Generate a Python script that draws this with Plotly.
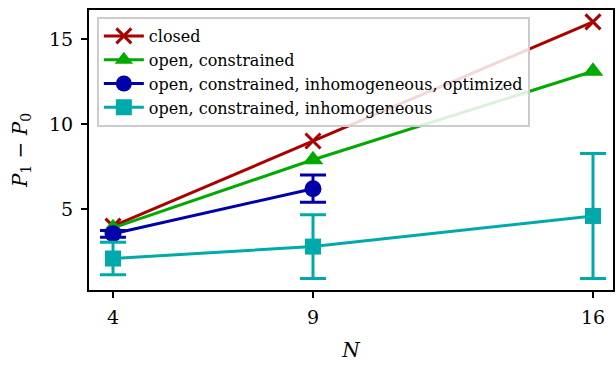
import plotly.graph_objects as go

N = [4, 9, 16]
closed = [4.0, 9.0, 16.0]
open_constrained = [3.9, 7.9, 13.1]
N_opt = [4, 9]
opt_vals = [3.55, 6.2]
opt_err = [0.2, 0.8]
inhom_vals = [2.1, 2.8, 4.6]
inhom_err = [0.95, 1.87, 3.67]

red = "#aa0000"
green = "#00aa00"
blue = "#0000aa"
cyan = "#00aaaa"

fig = go.Figure()
fig.add_trace(go.Scatter(x=N, y=closed, mode="lines+markers", name="closed",
    line=dict(color=red, width=3),
    marker=dict(symbol="x-thin", size=15, line=dict(color=red, width=3), color=red)))
fig.add_trace(go.Scatter(x=N, y=open_constrained, mode="lines+markers", name="open, constrained",
    line=dict(color=green, width=3),
    marker=dict(symbol="triangle-up", size=18, color=green)))
fig.add_trace(go.Scatter(x=N_opt, y=opt_vals, mode="lines+markers",
    name="open, constrained, inhomogeneous, optimized",
    line=dict(color=blue, width=3),
    marker=dict(symbol="circle", size=17, color=blue),
    error_y=dict(type="data", array=opt_err, color=blue, thickness=3, width=13)))
fig.add_trace(go.Scatter(x=N, y=inhom_vals, mode="lines+markers",
    name="open, constrained, inhomogeneous",
    line=dict(color=cyan, width=3),
    marker=dict(symbol="square", size=16, color=cyan),
    error_y=dict(type="data", array=inhom_err, color=cyan, thickness=3, width=13)))

fig.update_layout(
    width=616, height=365,
    margin=dict(l=89, r=3, t=10, b=75),
    plot_bgcolor="white", paper_bgcolor="white",
    font=dict(family="DejaVu Serif", color="black"),
    showlegend=True,
    legend=dict(x=0.015, y=0.975, xanchor="left", yanchor="top",
        bgcolor="rgba(255,255,255,0.85)", bordercolor="#cccccc", borderwidth=2,
        font=dict(size=16, family="DejaVu Serif"), tracegroupgap=0, itemwidth=40),
    xaxis=dict(range=[3.4, 16.5], tickvals=N, ticktext=[str(v) for v in N],
        showgrid=False, zeroline=False, showline=True, linecolor="black", linewidth=2,
        mirror=True, ticks="outside", ticklen=6, tickwidth=1.5, tickcolor="black",
        tickfont=dict(size=19), ticklabelstandoff=3, automargin=False,
        title=dict(text="<i>N</i>", font=dict(size=20), standoff=16)),
    yaxis=dict(range=[0.25, 16.7], tickvals=[5, 10, 15],
        showgrid=False, zeroline=False, showline=True, linecolor="black", linewidth=2,
        mirror=True, ticks="outside", ticklen=6, tickwidth=1.5, tickcolor="black",
        tickfont=dict(size=19), ticklabelstandoff=4, automargin=False,
        title=dict(text="<i>P</i><sub>1</sub> − <i>P</i><sub>0</sub>", font=dict(size=20), standoff=16)),
)

fig.write_html("out.html", config={"displayModeBar": False},
               post_script="document.body.style.margin='0';")
